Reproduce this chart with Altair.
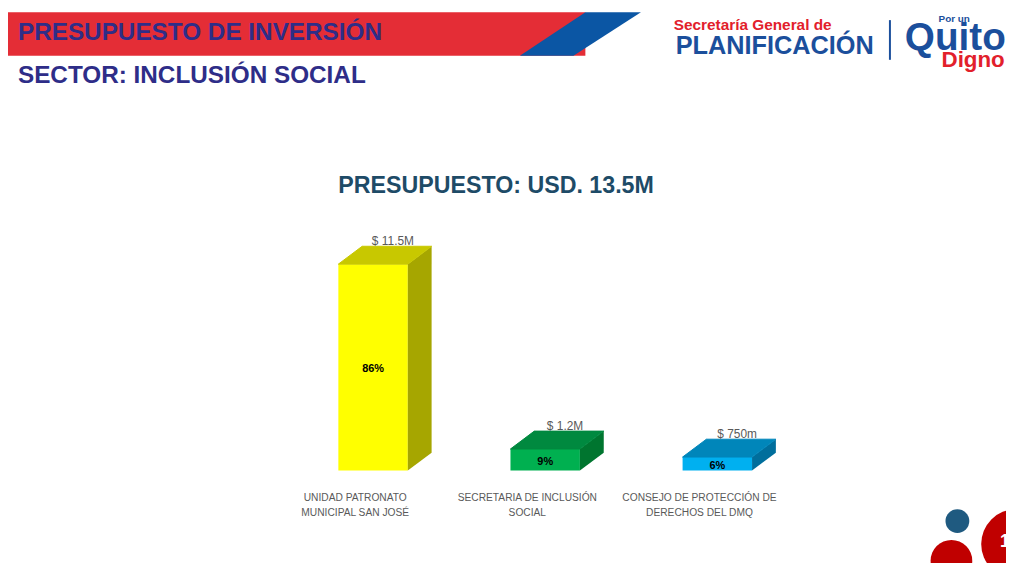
import altair as alt
import pandas as pd

# ---------------- data ----------------
categories = [
    "UNIDAD PATRONATO\nMUNICIPAL SAN JOSÉ",
    "SECRETARIA DE INCLUSIÓN\nSOCIAL",
    "CONSEJO DE PROTECCIÓN DE\nDERECHOS DEL DMQ",
]
budget_musd = [11.5, 1.2, 0.75]
share_labels = ["86%", "9%", "6%"]
amount_labels = ["$ 11.5M", "$ 1.2M", "$ 750m"]
chart_title = ["PRESUPUESTO: USD. 13.5M"]
header_title = ["PRESUPUESTO DE INVERSIÓN"]
header_subtitle = ["SECTOR: INCLUSIÓN SOCIAL"]
logo_line1 = ["Secretaría General de"]
logo_line2 = ["PLANIFICACIÓN"]
logo_por_un = ["Por un"]
logo_quito = ["Quito"]
logo_digno = ["Digno"]
page_number = ["1"]

# ---------------- styles / layout ----------------
front_colors = ["#FFFF00", "#00B050", "#00B0F0"]
top_colors = ["#C8C800", "#00893F", "#0086BA"]
side_colors = ["#A6A600", "#00752F", "#006E9C"]
RED = "#E42D36"
BLUE = "#0B56A4"
HEADER_TXT = "#2E2D88"
LOGO_BLUE = "#1B4F9C"
LOGO_RED = "#E2202B"
FONT = "Liberation Sans"

W, H = 1006, 555
CAT_PX = 173.5          # px between categories
X_FIRST = 350           # px of first category centre
BASE_Y = 464            # px of the zero line
PX_PER_M = 18.09        # px per USD million
FRONT_SHIFT = 18 / CAT_PX
HALF_W = 35 / CAT_PX
DEPTH_X = 24 / CAT_PX
DEPTH_Y = 18 / PX_PER_M

xs = alt.Scale(domain=[0, 2], range=[X_FIRST, X_FIRST + 2 * CAT_PX], zero=False, nice=False)
ys = alt.Scale(domain=[0, 10], range=[BASE_Y, BASE_Y - 10 * PX_PER_M], zero=False, nice=False)

df = pd.DataFrame({
    "cat": categories,
    "idx": list(range(len(categories))),
    "value": budget_musd,
    "pct": share_labels,
    "amount": amount_labels,
})
poly = df.merge(pd.DataFrame({"k": [0, 1]}), how="cross")

geom = dict(
    l=f"datum.idx + {FRONT_SHIFT} - {HALF_W}",
    r=f"datum.idx + {FRONT_SHIFT} + {HALF_W}",
    c=f"datum.idx + {FRONT_SHIFT}",
    zero="0",
)

front = alt.Chart(df).transform_calculate(**geom, cat_front="datum.cat").mark_rect().encode(
    x=alt.X("l:Q", scale=xs, axis=None),
    x2="r:Q",
    y=alt.Y("zero:Q", scale=ys, axis=None),
    y2="value:Q",
    color=alt.Color("cat_front:N", scale=alt.Scale(domain=categories, range=front_colors), legend=None),
)

side = alt.Chart(poly).transform_calculate(**geom, cat_side="datum.cat").transform_calculate(
    sx=f"datum.r + datum.k * {DEPTH_X}",
    sy=f"datum.k * {DEPTH_Y}",
    sy2=f"datum.value + datum.k * {DEPTH_Y}",
).mark_area(orient="vertical", opacity=1).encode(
    x=alt.X("sx:Q", scale=xs, axis=None),
    y=alt.Y("sy:Q", scale=ys, axis=None, stack=None),
    y2="sy2:Q",
    detail="cat:N",
    fill=alt.Fill("cat_side:N", scale=alt.Scale(domain=categories, range=side_colors), legend=None),
)

top = alt.Chart(poly).transform_calculate(**geom, cat_top="datum.cat").transform_calculate(
    ty=f"datum.value + datum.k * {DEPTH_Y}",
    tx=f"datum.l + datum.k * {DEPTH_X}",
    tx2=f"datum.r + datum.k * {DEPTH_X}",
).mark_area(orient="horizontal", opacity=1).encode(
    y=alt.Y("ty:Q", scale=ys, axis=None),
    x=alt.X("tx:Q", scale=xs, axis=None, stack=None),
    x2="tx2:Q",
    detail="cat:N",
    stroke=alt.Stroke("cat_top:N", scale=alt.Scale(domain=categories, range=top_colors), legend=None),
    fill=alt.Fill("cat_top:N", scale=alt.Scale(domain=categories, range=top_colors), legend=None),
)

amount_text = alt.Chart(df).transform_calculate(**geom).transform_calculate(
    vy=f"datum.value + {DEPTH_Y}"
).mark_text(align="center", baseline="alphabetic", dx=20, dy=-1, fontSize=12,
            font=FONT, color="#595959").encode(
    x=alt.X("c:Q", scale=xs, axis=None),
    y=alt.Y("vy:Q", scale=ys, axis=None),
    text="amount:N",
)

pct_text = alt.Chart(df).transform_calculate(**geom).transform_calculate(
    py="datum.value / 2"
).mark_text(align="center", baseline="middle", dy=2, fontSize=11, fontWeight="bold",
            font=FONT, color="#000000").encode(
    x=alt.X("c:Q", scale=xs, axis=None),
    y=alt.Y("py:Q", scale=ys, axis=None),
    text="pct:N",
)

cat_text = alt.Chart(df).mark_text(align="center", baseline="top", lineBreak="\n",
                                   lineHeight=15, fontSize=10.3, font=FONT,
                                   color="#595959").encode(
    x=alt.X("idx:Q", scale=xs, axis=None),
    y=alt.value(487),
    text="cat:N",
)

def label(txt, x, y, size, color, weight="bold", align="left", baseline="alphabetic"):
    return alt.Chart(pd.DataFrame({"t": txt})).mark_text(
        align=align, baseline=baseline, fontSize=size, fontWeight=weight,
        font=FONT, color=color
    ).encode(x=alt.value(x), y=alt.value(y), text="t:N")

dummy = pd.DataFrame({"d": [0]})

title = label(chart_title, 492, 184, 23.4, "#1E4B67", align="center")

red_band = alt.Chart(dummy).mark_rect(color=RED).encode(
    x=alt.value(0), x2=alt.value(582), y=alt.value(2), y2=alt.value(46))
blue_band = alt.Chart(dummy).mark_point(
    shape="M0.082,-0.3607L1,-0.3607L-0.1148,0.3607L-1,0.3607Z",
    filled=True, opacity=1, strokeWidth=0, color=BLUE
).encode(x=alt.value(577), y=alt.value(24), size=alt.value(122 * 122))

h1 = label(header_title, 10, 30, 24.5, HEADER_TXT)
h2 = label(header_subtitle, 10, 73, 24.5, HEADER_TXT)

lg1 = label(logo_line1, 671, 20, 15.5, LOGO_RED)
lg2 = label(logo_line2, 673, 44, 25.5, LOGO_BLUE)
vbar = alt.Chart(dummy).mark_rule(color=LOGO_BLUE, strokeWidth=2).encode(
    x=alt.value(889), y=alt.value(10), y2=alt.value(50))
lg3 = label(logo_por_un, 938, 12, 10, LOGO_BLUE)
lg4 = label(logo_quito, 904, 40, 39, LOGO_BLUE)
lg5 = label(logo_digno, 941, 57, 22.5, LOGO_RED)

c1 = alt.Chart(dummy).mark_circle(color="#1F5A80", opacity=1).encode(
    x=alt.value(957), y=alt.value(515), size=alt.value(576))
c2 = alt.Chart(dummy).mark_circle(color="#C00000", opacity=1).encode(
    x=alt.value(951), y=alt.value(555), size=alt.value(1764))
c3 = alt.Chart(dummy).mark_circle(color="#C00000", opacity=1).encode(
    x=alt.value(1016), y=alt.value(538), size=alt.value(4900))
pg = label(page_number, 1000, 541, 18, "#FFFFFF")

chart = alt.layer(
    red_band, blue_band, h1, h2, lg1, lg2, vbar, lg3, lg4, lg5,
    title, front, side, top, amount_text, pct_text, cat_text,
    c1, c2, c3, pg,
).resolve_scale(
    color="independent", fill="independent", stroke="independent"
).properties(
    width=W, height=H, padding=0, autosize="none", background="#FFFFFF"
).configure_view(stroke=None)

chart.save("out.html", embed_options={"renderer": "svg", "actions": False})
